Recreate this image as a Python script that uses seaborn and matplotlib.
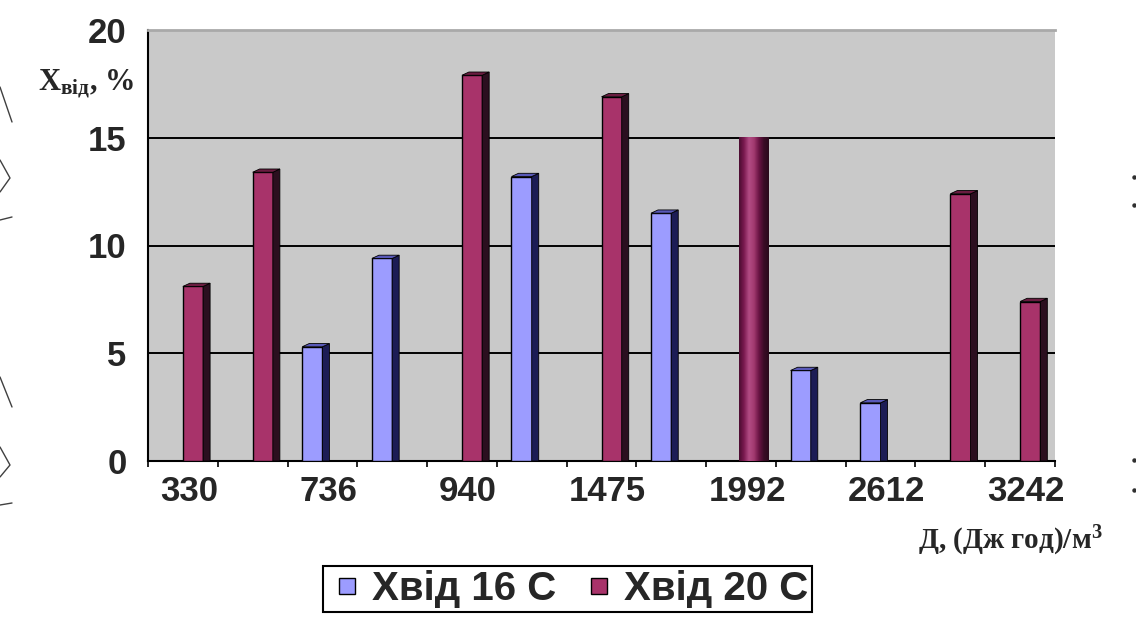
import numpy as np
import pandas as pd
import matplotlib
matplotlib.use("Agg")
import matplotlib.pyplot as plt
import matplotlib.transforms as mtransforms
from matplotlib.patches import Polygon
from matplotlib.lines import Line2D
from matplotlib.colors import LinearSegmentedColormap
from matplotlib.ticker import FixedLocator
import seaborn as sns

# Dose categories (only every other one carries a label on the axis)
dose_labels = ["330", "", "736", "", "940", "", "1475", "", "1992", "", "2612", "", "3242"]
series_names = ["Хвід 16 С", "Хвід 20 С"]
yield_16 = [0, 0, 5.3, 9.4, 0, 13.2, 0, 11.5, 0, 4.2, 2.7, 0, 0]
yield_20 = [8.1, 13.4, 0, 0, 17.9, 0, 16.9, 0, 15.0, 0, 0, 12.4, 7.4]
y_ticks = [0, 5, 10, 15, 20]
shaded_bar = ("Хвід 20 С", 8)   # the column drawn with a cylinder-like shading

front_colors = ["#9c9cff", "#a8336a"]
side_colors = ["#1c1c55", "#2b0f1f"]
top_colors = ["#5858b8", "#6a1c40"]

sns.set_style("white")
plt.rcParams["font.family"] = ["Liberation Sans", "DejaVu Sans"]
plt.rcParams["font.weight"] = "bold"
plt.rcParams["mathtext.fontset"] = "custom"
plt.rcParams["mathtext.rm"] = "Liberation Serif:bold"
plt.rcParams["mathtext.it"] = "Liberation Serif:bold"
plt.rcParams["mathtext.bf"] = "Liberation Serif:bold"

W, H = 1136, 622
fig = plt.figure(figsize=(W / 100, H / 100), dpi=100)
fig.patch.set_facecolor("white")
ax = fig.add_axes([148 / W, 1 - 461 / H, 907 / W, 431 / H])
ax.set_facecolor("#c9c9c9")

n = len(dose_labels)
df = pd.DataFrame({
    "pos": list(range(n)) * 2,
    "series": [series_names[0]] * n + [series_names[1]] * n,
    "value": yield_16 + yield_20,
})

sns.barplot(data=df, x="pos", y="value", hue="series", hue_order=series_names,
            palette=front_colors, width=0.58, dodge=True, saturation=1,
            edgecolor="black", linewidth=1.0, zorder=3, legend=False, ax=ax)

# pseudo-3D depth: dark right side and a thin top cap on every column
dx, dy = 0.10, 0.15
grad = LinearSegmentedColormap.from_list(
    "cyl", ["#4a0c30", "#7a1a50", "#b24c84", "#a23a70", "#6a1444", "#3a0c26", "#2a0a1c"])
for k, (cont, sc, tc) in enumerate(zip(ax.containers, side_colors, top_colors)):
    for i, bar in enumerate(cont):
        h = bar.get_height()
        if h <= 0:
            continue
        x0, w = bar.get_x(), bar.get_width()
        if (series_names[k], i) == shaded_bar:
            bar.set_visible(False)
            g = np.linspace(0, 1, 256)[None, :]
            ax.imshow(g, cmap=grad, aspect="auto", extent=[x0 - 0.03, x0 + w + dx, 0, h],
                      zorder=4, interpolation="bilinear")
            continue
        ax.add_patch(Polygon([(x0 + w, 0), (x0 + w + dx, 0), (x0 + w + dx, h + dy), (x0 + w, h)],
                             closed=True, facecolor=sc, edgecolor="black", lw=0.6, zorder=3))
        ax.add_patch(Polygon([(x0, h), (x0 + w, h), (x0 + w + dx, h + dy), (x0 + dx, h + dy)],
                             closed=True, facecolor=tc, edgecolor="black", lw=0.6, zorder=3))

ax.set_xlim(-0.5, n - 0.5)
ax.set_ylim(0, 20)

# axes, ticks and grid
ax.set_yticks(y_ticks)
ax.set_yticklabels([str(v) for v in y_ticks])
ax.set_xticks(range(n))
ax.set_xticklabels(dose_labels)
ax.xaxis.set_minor_locator(FixedLocator(np.arange(-0.5, n, 1.0)))
ax.tick_params(axis="y", which="major", length=5, width=1.3, direction="out",
               color="black", pad=10.5, labelsize=25)
ax.tick_params(axis="x", which="major", length=0, pad=10, labelsize=25)
ax.tick_params(axis="x", which="minor", length=4, width=1.2, direction="out",
               color="black", bottom=True)
shift = mtransforms.ScaledTranslation(6 / 100, 0, fig.dpi_scale_trans)
for lab in ax.get_xticklabels():
    lab.set_transform(lab.get_transform() + shift)

ax.set_axisbelow(True)
ax.yaxis.grid(True, color="black", lw=1.4)
ax.xaxis.grid(False)
ax.get_ygridlines()[-1].set_visible(False)
for side in ["left", "bottom"]:
    ax.spines[side].set_color("black")
    ax.spines[side].set_linewidth(1.5)
ax.spines["right"].set_visible(False)
ax.spines["top"].set_color("#a9a9a9")
ax.spines["top"].set_linewidth(2)
ax.set_xlabel("")
ax.set_ylabel("")

# legend under the plot: square swatches in the series colours
handles = [Line2D([], [], ls="none", marker="s", markersize=12.2,
                  markerfacecolor=cont.patches[0].get_facecolor(),
                  markeredgecolor="black", markeredgewidth=1.0)
           for cont in ax.containers]
leg = ax.legend(handles, series_names, loc="center",
                bbox_to_anchor=(567.5 / W, 1 - 589 / H), bbox_transform=fig.transFigure,
                ncol=2, frameon=True, fontsize=29, handlelength=1.0, handletextpad=0.12,
                columnspacing=0.55, borderpad=0.1, borderaxespad=0, fancybox=False,
                edgecolor="black", framealpha=1)
leg.get_frame().set_linewidth(1.5)
for t in leg.get_texts():
    t.set_fontweight("bold")

# axis titles
fig.text(38 / W, 1 - 90 / H, r"$\mathrm{X}_{\mathrm{від}}$, %", fontsize=22,
         family=["Liberation Serif", "DejaVu Serif"], weight="bold", va="baseline")
fig.text(918 / W, 1 - 549 / H, r"Д, (Дж год)/м$^{3}$", fontsize=21,
         family=["Liberation Serif", "DejaVu Serif"], weight="bold", va="baseline")

# fragments of neighbouring drawings at the page edges
def px(pts):
    return [p[0] / W for p in pts], [1 - p[1] / H for p in pts]

edge_strokes = [
    [(0, 87), (12, 122)],
    [(0, 160), (10, 178), (0, 192)],
    [(0, 220), (12, 217)],
    [(0, 377), (12, 407)],
    [(0, 447), (10, 465), (0, 477)],
    [(0, 505), (12, 503)],
]
for s in edge_strokes:
    xs, ys = px(s)
    fig.add_artist(Line2D(xs, ys, transform=fig.transFigure, color="#404040", lw=1.0))
xs, ys = px([(1134, 177), (1134, 205), (1134, 460), (1134, 490)])
fig.add_artist(Line2D(xs, ys, transform=fig.transFigure, ls="none", marker="o",
                      ms=2.2, color="#303030"))

fig.savefig("out.png", dpi=100)
